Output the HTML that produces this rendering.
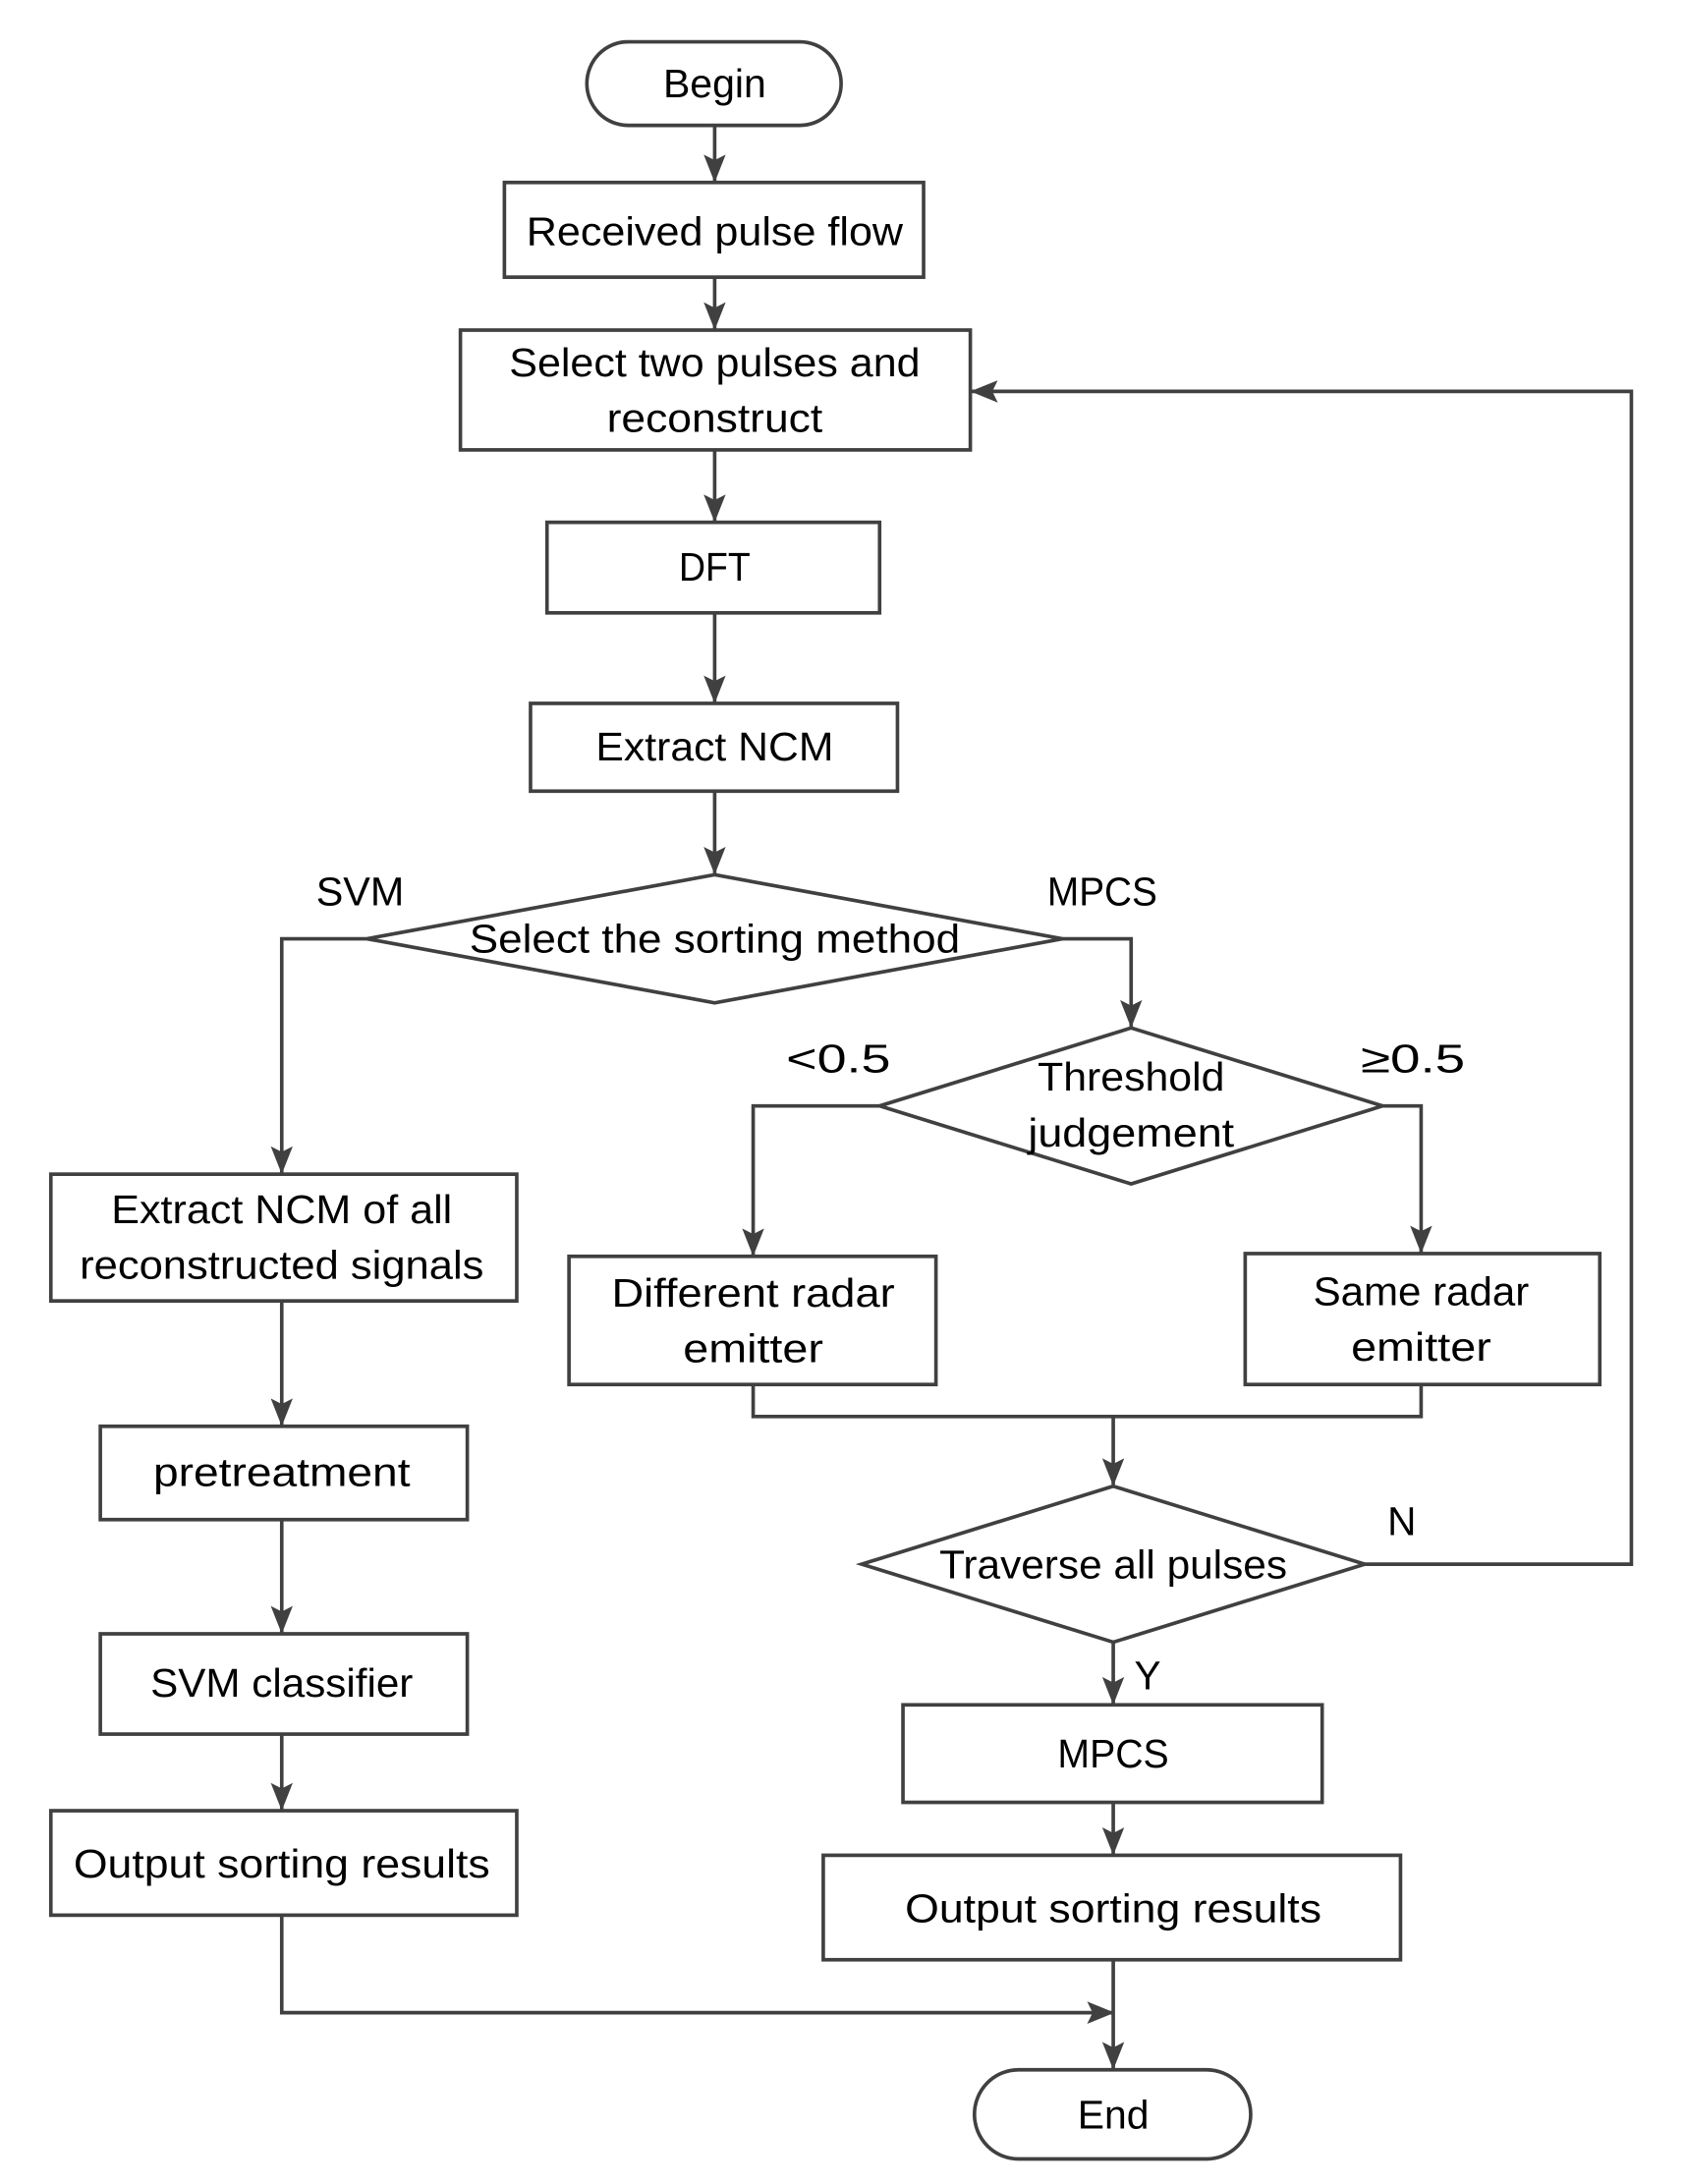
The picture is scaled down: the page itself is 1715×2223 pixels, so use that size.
<!DOCTYPE html>
<html><head><meta charset="utf-8"><style>
html,body{margin:0;padding:0;background:#fff;}
svg{display:block;}
text{font-family:"Liberation Sans",sans-serif;font-size:29px;fill:#000;text-anchor:middle;}
</style></head><body>
<svg width="1715" height="2223" viewBox="0 0 1226 1568" preserveAspectRatio="none" xmlns="http://www.w3.org/2000/svg">
<defs>
<marker id="b" markerWidth="20" markerHeight="20" refX="19" refY="8" orient="auto" markerUnits="userSpaceOnUse" viewBox="0 0 20 16"><path d="M0,0 L20,8 L0,16 L4,8 Z" fill="#404040"/></marker></defs>
<g fill="none" stroke="#404040" stroke-width="2.6">
<rect x="427" y="30" width="185" height="60" rx="30"/>
<rect x="367" y="131" width="305" height="68"/>
<rect x="335" y="237" width="371" height="86"/>
<rect x="398" y="375" width="242" height="65"/>
<rect x="386" y="505" width="267" height="63"/>
<polygon points="520,628 773,674 520,720 267,674"/>
<polygon points="823,738 1006,794 823,850 640,794"/>
<rect x="414" y="902" width="267" height="92"/>
<rect x="906" y="900" width="258" height="94"/>
<polygon points="810,1067 993,1123 810,1179 627,1123"/>
<rect x="657" y="1224" width="305" height="70"/>
<rect x="599" y="1332" width="420" height="75"/>
<rect x="709" y="1486" width="201" height="64" rx="32"/>
<rect x="37" y="843" width="339" height="91"/>
<rect x="73" y="1024" width="267" height="67"/>
<rect x="73" y="1173" width="267" height="72"/>
<rect x="37" y="1300" width="339" height="75"/>
<g marker-end="url(#b)">
<path d="M520,90 V130"/>
<path d="M520,199 V236"/>
<path d="M520,323 V374"/>
<path d="M520,440 V504"/>
<path d="M520,568 V627"/>
<path d="M267,674 H205 V842"/>
<path d="M773,674 H823 V737"/>
<path d="M640,794 H548 V901"/>
<path d="M1006,794 H1034 V899"/>
<path d="M810,1017 V1066"/>
<path d="M993,1123 H1187 V281 H707"/>
<path d="M810,1179 V1223"/>
<path d="M810,1294 V1331"/>
<path d="M810,1407 V1485"/>
<path d="M205,934 V1023"/>
<path d="M205,1091 V1172"/>
<path d="M205,1245 V1299"/>
<path d="M205,1375 V1445 H810"/>
</g>
<path d="M548,994 V1017 H1034 V994"/>
</g>
<g>
<text x="520" y="70" textLength="75" lengthAdjust="spacingAndGlyphs">Begin</text>
<text x="520" y="176" textLength="274" lengthAdjust="spacingAndGlyphs">Received pulse flow</text>
<text x="520" y="270" textLength="299" lengthAdjust="spacingAndGlyphs">Select two pulses and</text>
<text x="520" y="310" textLength="157" lengthAdjust="spacingAndGlyphs">reconstruct</text>
<text x="520" y="417" textLength="52" lengthAdjust="spacingAndGlyphs">DFT</text>
<text x="520" y="546" textLength="173" lengthAdjust="spacingAndGlyphs">Extract NCM</text>
<text x="520" y="684" textLength="357" lengthAdjust="spacingAndGlyphs">Select the sorting method</text>
<text x="262" y="650" textLength="64" lengthAdjust="spacingAndGlyphs">SVM</text>
<text x="802" y="650" textLength="80" lengthAdjust="spacingAndGlyphs">MPCS</text>
<text x="610" y="770" textLength="76" lengthAdjust="spacingAndGlyphs">&lt;0.5</text>
<text x="1028" y="770" textLength="76" lengthAdjust="spacingAndGlyphs">≥0.5</text>
<text x="823" y="783" textLength="136" lengthAdjust="spacingAndGlyphs">Threshold</text>
<text x="823" y="823" textLength="150" lengthAdjust="spacingAndGlyphs">judgement</text>
<text x="205" y="878" textLength="248" lengthAdjust="spacingAndGlyphs">Extract NCM of all</text>
<text x="205" y="918" textLength="294" lengthAdjust="spacingAndGlyphs">reconstructed signals</text>
<text x="548" y="938" textLength="206" lengthAdjust="spacingAndGlyphs">Different radar</text>
<text x="548" y="978" textLength="102" lengthAdjust="spacingAndGlyphs">emitter</text>
<text x="1034" y="937" textLength="157" lengthAdjust="spacingAndGlyphs">Same radar</text>
<text x="1034" y="977" textLength="102" lengthAdjust="spacingAndGlyphs">emitter</text>
<text x="810" y="1133" textLength="253" lengthAdjust="spacingAndGlyphs">Traverse all pulses</text>
<text x="1020" y="1102">N</text>
<text x="835" y="1213">Y</text>
<text x="205" y="1067" textLength="187" lengthAdjust="spacingAndGlyphs">pretreatment</text>
<text x="205" y="1218" textLength="191" lengthAdjust="spacingAndGlyphs">SVM classifier</text>
<text x="205" y="1348" textLength="303" lengthAdjust="spacingAndGlyphs">Output sorting results</text>
<text x="810" y="1269" textLength="81" lengthAdjust="spacingAndGlyphs">MPCS</text>
<text x="810" y="1380" textLength="303" lengthAdjust="spacingAndGlyphs">Output sorting results</text>
<text x="810" y="1528" textLength="52" lengthAdjust="spacingAndGlyphs">End</text>
</g>
</svg>
</body></html>
